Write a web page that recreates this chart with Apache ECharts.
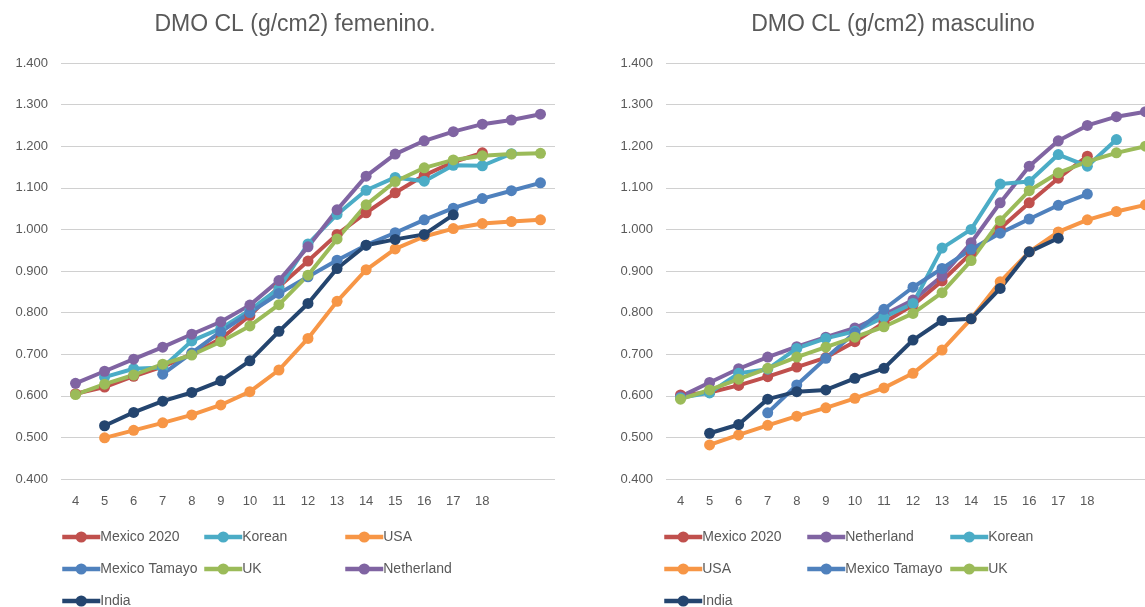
<!DOCTYPE html>
<html>
<head>
<meta charset="utf-8">
<script src="https://cdn.jsdelivr.net/npm/echarts@6/dist/echarts.min.js"></script>
<style>
html,body{margin:0;padding:0;background:#fff;overflow:hidden;width:1145px;height:607px;}
#chart{width:1170px;height:607px;}
</style>
</head>
<body>
<div id="chart"></div>
<script>
// ---- data ----
const ages = ['4','5','6','7','8','9','10','11','12','13','14','15','16','17','18','19','20'];
const lastLabeledAge = 18;
const yTicks = [0.4, 1.4, 0.1]; // min, max, step

const titleF = 'DMO CL (g/cm2) femenino.';
const titleM = 'DMO CL (g/cm2) masculino';

// Female panel
const fMexico2020  = [0.605,0.621,0.647,0.670,0.700,0.737,0.793,0.862,0.924,0.988,1.040,1.088,1.130,1.162,1.184,null,null];
const fKorean      = [null,0.645,0.665,0.668,0.732,0.762,0.806,0.858,0.965,1.036,1.094,1.125,1.116,1.154,1.153,1.182,null];
const fUSA         = [null,0.499,0.517,0.535,0.554,0.578,0.610,0.662,0.738,0.827,0.903,0.953,0.983,1.002,1.014,1.019,1.023];
const fTamayo      = [null,null,null,0.652,0.703,0.754,0.800,0.846,0.886,0.926,0.962,0.992,1.023,1.051,1.074,1.093,1.112];
const fUK          = [0.603,0.628,0.650,0.676,0.698,0.730,0.768,0.819,0.890,0.977,1.059,1.115,1.148,1.167,1.177,1.181,1.183];
const fNetherland  = [0.630,0.659,0.688,0.717,0.748,0.778,0.818,0.877,0.958,1.047,1.128,1.181,1.213,1.235,1.253,1.263,1.277];
const fIndia       = [null,0.528,0.560,0.587,0.608,0.636,0.684,0.755,0.822,0.906,0.962,0.976,0.988,1.035,null,null,null];

// Male panel
const mMexico2020  = [0.602,0.608,0.625,0.646,0.669,0.692,0.730,0.776,0.818,0.876,0.943,1.002,1.064,1.123,1.176,null,null];
const mNetherland  = [0.598,0.632,0.665,0.693,0.718,0.741,0.763,0.795,0.830,0.888,0.968,1.064,1.152,1.213,1.250,1.271,1.283];
const mKorean      = [0.595,0.607,0.654,0.664,0.714,0.738,0.755,0.789,0.822,0.955,1.000,1.109,1.115,1.180,1.152,1.216,null];
const mUSA         = [null,0.482,0.506,0.529,0.551,0.571,0.594,0.619,0.654,0.710,0.785,0.874,0.946,0.994,1.023,1.043,1.059];
const mTamayo      = [null,null,null,0.559,0.626,0.690,0.752,0.808,0.861,0.906,0.952,0.991,1.025,1.058,1.085,null,null];
const mUK          = [0.592,0.614,0.640,0.666,0.693,0.717,0.741,0.766,0.798,0.848,0.925,1.021,1.093,1.136,1.163,1.184,1.200];
const mIndia       = [null,0.510,0.531,0.592,0.610,0.614,0.642,0.666,0.734,0.781,0.785,0.858,0.946,0.979,null,null,null];

const colors = {
  'Mexico 2020':'#C0504D','Korean':'#4BACC6','USA':'#F79646','Mexico Tamayo':'#4F81BD',
  'UK':'#9BBB59','Netherland':'#8064A2','India':'#24456F'
};

const seriesF = [['Mexico 2020',fMexico2020],['Korean',fKorean],['USA',fUSA],['Mexico Tamayo',fTamayo],['UK',fUK],['Netherland',fNetherland],['India',fIndia]];
const seriesM = [['Mexico 2020',mMexico2020],['Netherland',mNetherland],['Korean',mKorean],['USA',mUSA],['Mexico Tamayo',mTamayo],['UK',mUK],['India',mIndia]];

// ---- chart ----
const FONT = '"Liberation Sans", Arial, sans-serif';
const TXT = '#595959';
const chart = echarts.init(document.getElementById('chart'), null, {renderer:'canvas'});

const grids = [
  {left:61, top:63, width:494, height:416},
  {left:666, top:63, width:494, height:416}
];
function xAxis(i){
  return {gridIndex:i,type:'category',data:ages,boundaryGap:true,
    axisLine:{show:false},axisTick:{show:false},
    axisLabel:{color:TXT,fontFamily:FONT,fontSize:13,margin:16,interval:0,
      formatter:v=>Number(v)<=lastLabeledAge?v:''}};
}
function yAxis(i){
  return {gridIndex:i,type:'value',min:yTicks[0],max:yTicks[1],interval:yTicks[2],
    axisLine:{show:false},axisTick:{show:false},
    splitLine:{lineStyle:{color:'#D0D0D0',width:1.2}},
    axisLabel:{color:TXT,fontFamily:FONT,fontSize:13,margin:13,formatter:v=>v.toFixed(3)}};
}
const series = [];
const legends = [];
const legPos = [[[60,537],[202,537],[343,537],[60,569],[202,569],[343,569],[60,601]],
                [[662,537],[805,537],[948,537],[662,569],[805,569],[948,569],[662,601]]];
[seriesF, seriesM].forEach((set, gi) => {
  set.forEach(([name, data], k) => {
    const id = name + '_' + gi;
    series.push({type:'line',id:id,name:id,xAxisIndex:gi,yAxisIndex:gi,data:data,
      symbol:'circle',symbolSize:11,connectNulls:false,
      lineStyle:{width:4,color:colors[name]},itemStyle:{color:colors[name]},
      emphasis:{disabled:true},animation:false});
    legends.push({data:[id],left:legPos[gi][k][0],top:legPos[gi][k][1]-7,
      itemWidth:38,itemHeight:14,itemGap:0,selectedMode:false,padding:0,
      lineStyle:{width:4.5},
      formatter:()=>name,
      textStyle:{color:TXT,fontFamily:FONT,fontSize:14,padding:[0,0,0,-5]}});
  });
});

chart.setOption({
  backgroundColor:'#fff',
  animation:false,
  title:[
    {text:titleF,left:290,top:8,textAlign:'center',textStyle:{color:TXT,fontFamily:FONT,fontSize:23,fontWeight:'normal'}},
    {text:titleM,left:888,top:8,textAlign:'center',textStyle:{color:TXT,fontFamily:FONT,fontSize:23,fontWeight:'normal'}}
  ],
  grid:grids,
  xAxis:[xAxis(0),xAxis(1)],
  yAxis:[yAxis(0),yAxis(1)],
  legend:legends,
  series:series
});
</script>
</body>
</html>
